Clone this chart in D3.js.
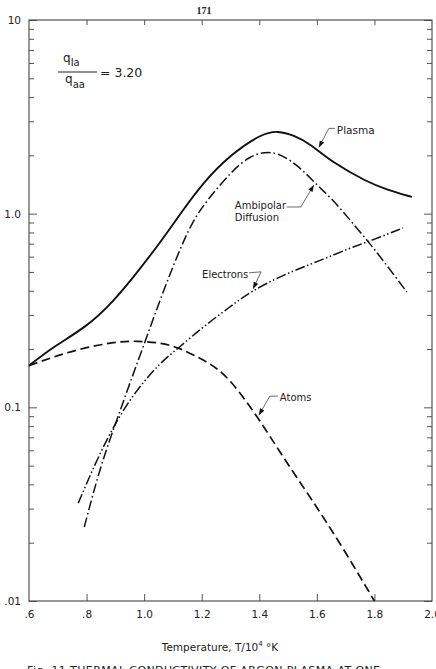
<!DOCTYPE html>
<html>
<head>
<meta charset="utf-8">
<script src="https://cdn.jsdelivr.net/npm/d3@7"></script>
<style>
  html, body { margin: 0; padding: 0; background: #fff; }
  svg { display: block; }
  text { font-family: "DejaVu Sans", "Liberation Sans", sans-serif; fill: #222; }
</style>
</head>
<body>
<svg id="chart" width="436" height="669"></svg>
<script>
// ---------------- DATA ----------------
const xTicks = [0.6, 0.8, 1.0, 1.2, 1.4, 1.6, 1.8, 2.0];
const xTickLabels = [".6", ".8", "1.0", "1.2", "1.4", "1.6", "1.8", "2.0"];
const yMajor = [0.01, 0.1, 1, 10];
const yTickLabels = [".01", "0.1", "1.0", "10"];

const plasmaT = [0.6, 0.683, 0.8, 0.892, 0.974, 1.055, 1.135, 1.204, 1.298, 1.41, 1.465, 1.52, 1.576, 1.656, 1.774, 1.843, 1.93];
const plasmaV = [0.164, 0.205, 0.26, 0.35, 0.494, 0.706, 1.045, 1.44, 2.01, 2.60, 2.68, 2.54, 2.30, 1.83, 1.46, 1.33, 1.22];

const ambipolarT = [0.792, 0.847, 0.905, 0.951, 1.003, 1.055, 1.113, 1.169, 1.228, 1.308, 1.367, 1.419, 1.472, 1.541, 1.593, 1.656, 1.715, 1.774, 1.829, 1.9125];
const ambipolarV = [0.0241, 0.0492, 0.086, 0.134, 0.218, 0.358, 0.598, 0.928, 1.22, 1.68, 1.98, 2.09, 2.05, 1.74, 1.44, 1.18, 0.928, 0.731, 0.577, 0.394];

const electronsT = [0.771, 0.835, 0.905, 0.974, 1.055, 1.124, 1.204, 1.298, 1.367, 1.482, 1.599, 1.715, 1.794, 1.899];
const electronsV = [0.032, 0.0535, 0.086, 0.123, 0.170, 0.205, 0.260, 0.330, 0.394, 0.483, 0.563, 0.665, 0.731, 0.843];

const atomsT = [0.6, 0.683, 0.8, 0.916, 0.974, 1.055, 1.124, 1.204, 1.252, 1.308, 1.395, 1.482, 1.576, 1.68, 1.8];
const atomsV = [0.164, 0.182, 0.205, 0.219, 0.220, 0.216, 0.203, 0.176, 0.160, 0.134, 0.089, 0.0555, 0.0345, 0.020, 0.010];

const seriesNames = ["Plasma", "Ambipolar Diffusion", "Electrons", "Atoms"];
const labelAnchorT = [1.60, 1.593, 1.375, 1.395];

// ---------------- CHART ----------------
const svg = d3.select("#chart");
const W = 436, H = 669;
svg.append("rect").attr("width", W).attr("height", H).attr("fill", "#fff");

const x = d3.scaleLinear().domain([0.6, 2.0]).range([29, 432]);
const y = d3.scaleLog().domain([0.01, 10]).range([601, 20]);

const axisColor = "#444";
const allTicks = y.ticks();
const yMinor = allTicks.filter(v => !yMajor.some(m => Math.abs(Math.log10(v) - Math.log10(m)) < 1e-6));

function styleAxis(g) {
  g.select(".domain").remove();
  g.selectAll(".tick line").attr("stroke", axisColor).attr("stroke-width", 0.9);
  g.selectAll(".tick text").style("font-size", "10.5px").attr("fill", "#222");
}

// bottom
svg.append("g").attr("transform", `translate(0,${y.range()[0]})`)
  .call(d3.axisBottom(x).tickValues(xTicks.slice(1, -1)).tickSize(-7).tickSizeOuter(0).tickFormat(""))
  .call(styleAxis);
svg.append("g").attr("transform", `translate(0,${y.range()[0]})`)
  .call(d3.axisBottom(x).tickValues(xTicks).tickSize(0).tickPadding(10).tickSizeOuter(0)
        .tickFormat((d, i) => xTickLabels[i]))
  .call(styleAxis);
// top
svg.append("g").attr("transform", `translate(0,${y.range()[1]})`)
  .call(d3.axisTop(x).tickValues(xTicks.slice(1, -1)).tickSize(-5).tickSizeOuter(0).tickFormat(""))
  .call(styleAxis);
// left
svg.append("g").attr("transform", `translate(${x.range()[0]},0)`)
  .call(d3.axisLeft(y).tickValues(yMajor).tickSize(-8).tickPadding(8).tickSizeOuter(0)
        .tickFormat((d, i) => yTickLabels[i]))
  .call(styleAxis);
svg.append("g").attr("transform", `translate(${x.range()[0]},0)`)
  .call(d3.axisLeft(y).tickValues(yMinor).tickSize(-5).tickSizeOuter(0).tickFormat(""))
  .call(styleAxis);
// right
svg.append("g").attr("transform", `translate(${x.range()[1]},0)`)
  .call(d3.axisRight(y).tickValues(yMajor).tickSize(-8).tickSizeOuter(0).tickFormat(""))
  .call(styleAxis);
svg.append("g").attr("transform", `translate(${x.range()[1]},0)`)
  .call(d3.axisRight(y).tickValues(yMinor).tickSize(-5).tickSizeOuter(0).tickFormat(""))
  .call(styleAxis);

// frame
svg.append("rect")
  .attr("x", x.range()[0]).attr("y", y.range()[1])
  .attr("width", x.range()[1] - x.range()[0]).attr("height", y.range()[0] - y.range()[1])
  .attr("fill", "none").attr("stroke", axisColor).attr("stroke-width", 1.1);

// curves
const line = d3.line().x(d => x(d[0])).y(d => y(d[1])).curve(d3.curveBasis);
const zip = (a, b) => a.map((t, i) => [t, b[i]]);

const series = [
  { t: plasmaT, v: plasmaV, dash: null, w: 1.9 },
  { t: ambipolarT, v: ambipolarV, dash: "10,3,1.6,3", w: 1.5 },
  { t: electronsT, v: electronsV, dash: "10,2.5,1.5,2.5,1.5,2.5", w: 1.5 },
  { t: atomsT, v: atomsV, dash: "9,4.5", w: 1.7 }
];
series.forEach(s => {
  svg.append("path").datum(zip(s.t, s.v)).attr("d", line)
    .attr("fill", "none").attr("stroke", "#111").attr("stroke-width", s.w)
    .attr("stroke-dasharray", s.dash);
});

// interpolation on log values for label anchors
function valueAt(ts, vs, t) {
  const i = Math.max(1, d3.bisectLeft(ts, t));
  const t0 = ts[i - 1], t1 = ts[i];
  const f = (t - t0) / (t1 - t0);
  return Math.pow(10, Math.log10(vs[i - 1]) * (1 - f) + Math.log10(vs[i]) * f);
}

// arrow marker
svg.append("defs").append("marker")
  .attr("id", "arr").attr("viewBox", "0 0 8 6").attr("refX", 8).attr("refY", 3)
  .attr("markerUnits", "userSpaceOnUse").attr("markerWidth", 7).attr("markerHeight", 5)
  .attr("orient", "auto")
  .append("path").attr("d", "M0,0 L8,3 L0,6 Z").attr("fill", "#111");

const leaderLine = d3.line().curve(d3.curveLinear);
const labelFont = "10px";
const anchorsPx = series.map((s, i) => {
  const t = labelAnchorT[i];
  return [x(t), y(valueAt(s.t, s.v, t))];
});

function leader(points) {
  svg.append("path").attr("d", leaderLine(points))
    .attr("fill", "none").attr("stroke", "#444").attr("stroke-width", 0.8)
    .attr("marker-end", "url(#arr)");
}

// Plasma
{
  const [px, py] = anchorsPx[0];
  leader([[px + 18, py - 21], [px + 12, py - 21], [px + 2, py - 2]]);
  svg.append("text").attr("x", px + 20).attr("y", py - 15).style("font-size", "10.5px").text(seriesNames[0]);
}
// Ambipolar Diffusion
{
  const [px, py] = anchorsPx[1];
  leader([[px - 28, py + 24], [px - 14, py + 24], [px - 1, py + 2]]);
  const tx = svg.append("text").attr("x", px - 80).attr("y", py + 26).style("font-size", labelFont);
  tx.append("tspan").attr("x", px - 80).text("Ambipolar");
  tx.append("tspan").attr("x", px - 80).attr("dy", "1.2em").text("Diffusion");
}
// Electrons
{
  const [px, py] = anchorsPx[2];
  leader([[px - 3, py - 18], [px + 9, py - 19], [px + 1, py - 2]]);
  svg.append("text").attr("x", px - 50).attr("y", py - 13).style("font-size", labelFont).text(seriesNames[2]);
}
// Atoms
{
  const [px, py] = anchorsPx[3];
  leader([[px + 20, py - 21], [px + 12, py - 21], [px + 1, py - 2]]);
  svg.append("text").attr("x", px + 22).attr("y", py - 16).style("font-size", labelFont).text(seriesNames[3]);
}

// ratio annotation
{
  const g = svg.append("g");
  const fx = 58, fy = 72;
  g.append("line").attr("x1", fx).attr("x2", fx + 39).attr("y1", fy).attr("y2", fy)
    .attr("stroke", "#222").attr("stroke-width", 1);
  const num = g.append("text").attr("x", fx + 5).attr("y", fy - 10).style("font-size", "12px");
  num.append("tspan").text("q");
  num.append("tspan").attr("dy", 4).style("font-size", "10px").text("Ia");
  const den = g.append("text").attr("x", fx + 7).attr("y", fy + 11).style("font-size", "12px");
  den.append("tspan").text("q");
  den.append("tspan").attr("dy", 5).style("font-size", "10px").text("aa");
  g.append("text").attr("x", fx + 42).attr("y", fy + 5).style("font-size", "12.5px").text("= 3.20");
}

// page number
svg.append("text").attr("x", 204).attr("y", 14).attr("text-anchor", "middle")
  .style("font-family", "'Liberation Serif', 'DejaVu Serif', serif").style("font-size", "10px")
  .style("font-weight", "bold").text("171");

// axis title
{
  const t = svg.append("text").attr("x", 220).attr("y", 651).attr("text-anchor", "middle").style("font-size", "10.5px");
  t.append("tspan").text("Temperature, T/10");
  t.append("tspan").attr("dy", -5).style("font-size", "7px").text("4");
  t.append("tspan").attr("dy", 5).text(" °K");
}

// caption (cut by the page edge, as in the reference)
svg.append("text").attr("x", 27).attr("y", 674).style("font-size", "11px")
  .attr("textLength", 353).text("Fig. 11   THERMAL  CONDUCTIVITY  OF  ARGON  PLASMA  AT  ONE");
</script>
</body>
</html>
